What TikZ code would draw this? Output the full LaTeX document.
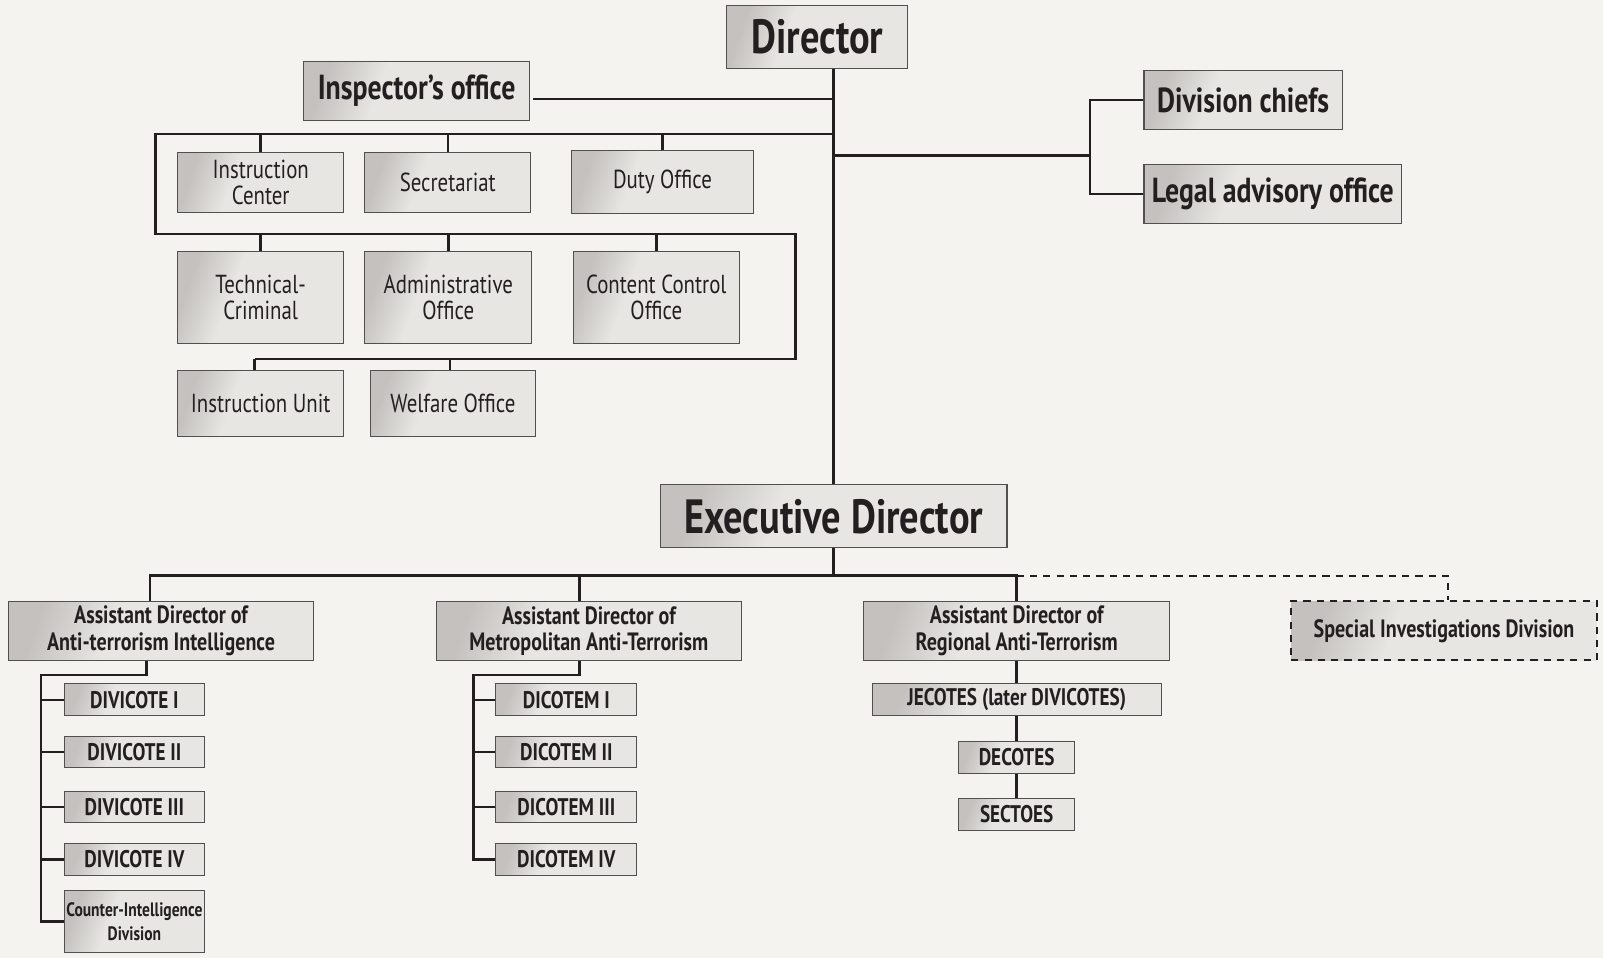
\documentclass[tikz,border=0pt]{standalone}
\usepackage{fontspec}
\setmainfont{PT Sans}[FakeStretch=0.8]
\usetikzlibrary{positioning}

\definecolor{bgcol}{HTML}{F4F3EF}
\definecolor{inkcol}{HTML}{231F20}
\definecolor{boxdark}{HTML}{C4C1BE}
\definecolor{boxlight}{HTML}{E7E6E3}
\definecolor{rimcol}{HTML}{505050}
\pgfdeclarehorizontalshading{boxshade}{100bp}{color(0bp)=(boxdark); color(25bp)=(boxdark); color(40bp)=(boxlight); color(100bp)=(boxlight)}

\begin{document}
\begin{tikzpicture}[x=1pt,y=-1pt,
    orgbox/.style={draw=rimcol,line width=1pt,shading=boxshade,shading angle=-20,
      align=center,text=inkcol,inner sep=0pt,font=\fontsize{25.5}{25.5}\selectfont},
    headbox/.style={orgbox,font=\fontsize{47}{48}\selectfont\bfseries},
    chiefbox/.style={orgbox,font=\fontsize{34}{35}\selectfont\bfseries},
    asstbox/.style={orgbox,font=\fontsize{24.5}{25.5}\selectfont\bfseries},
    unitbox/.style={orgbox,font=\fontsize{23.5}{24}\selectfont\bfseries},
    dashbox/.style={asstbox,draw=inkcol,line width=2pt,dash pattern=on 7pt off 6pt},
    link/.style={draw=inkcol,line width=2.4pt}]
  \useasboundingbox (0,0) rectangle (1568,937);
  \fill[bgcol] (0,0) rectangle (1568,937);

  % top of the tree
  \draw (799.5,36) node[headbox,minimum width=177,minimum height=62] (dir) {Director};
  \draw (407.5,89) node[chiefbox,minimum width=221,minimum height=58] (insp) {Inspector’s office};
  \draw (1216,98) node[chiefbox,minimum width=194,minimum height=58] (divc) {Division chiefs};
  \draw (1245,190) node[chiefbox,minimum width=252,minimum height=58] (legal) {Legal advisory office};

  % offices under the director
  \draw (255,178.5) node[orgbox,minimum width=162,minimum height=59] (instc) {Instruction\\Center};
  \draw (438,178.5) node[orgbox,minimum width=162,minimum height=59] (secr) {Secretariat};
  \draw (648,178) node[orgbox,minimum width=178,minimum height=62] (duty) {Duty Office};
  \draw (255,291) node[orgbox,minimum width=162,minimum height=90] (tech) {Technical-\\Criminal};
  \draw (438.5,291) node[orgbox,minimum width=163,minimum height=90] (admin) {Administrative\\Office};
  \draw (642,291) node[orgbox,minimum width=162,minimum height=90] (cont) {Content Control\\Office};
  \draw (255,394.5) node[orgbox,minimum width=162,minimum height=65] (iunit) {Instruction Unit};
  \draw (443,394.5) node[orgbox,minimum width=162,minimum height=65] (welf) {Welfare Office};

  % executive level
  \draw (815.5,505) node[headbox,minimum width=339,minimum height=62] (exe) {Executive Director};
  \draw (157.5,617) node[asstbox,minimum width=299,minimum height=58] (ad1) {Assistant Director of\\Anti-terrorism Intelligence};
  \draw (576,617) node[asstbox,minimum width=298,minimum height=58] (ad2) {Assistant Director of\\Metropolitan Anti-Terrorism};
  \draw (994.5,617) node[asstbox,minimum width=299,minimum height=58] (ad3) {Assistant Director of\\Regional Anti-Terrorism};
  \draw (1412.5,617) node[dashbox,minimum width=299,minimum height=58] (sid) {Special Investigations Division};

  \draw (131.5,684.5) node[unitbox,minimum width=137,minimum height=31] (dv1) {DIVICOTE I};
  \draw (131.5,735.5) node[unitbox,minimum width=137,minimum height=31] (dv2) {DIVICOTE II};
  \draw (131.5,789.5) node[unitbox,minimum width=137,minimum height=31] (dv3) {DIVICOTE III};
  \draw (131.5,840.5) node[unitbox,minimum width=137,minimum height=31] (dv4) {DIVICOTE IV};
  \draw (131.5,901.5) node[unitbox,minimum width=137,minimum height=61,
    font=\fontsize{19}{23}\selectfont\bfseries] (cid) {Counter-Intelligence\\Division};
  \draw (554,684.5) node[unitbox,minimum width=138,minimum height=31] (dm1) {DICOTEM I};
  \draw (554,735.5) node[unitbox,minimum width=138,minimum height=31] (dm2) {DICOTEM II};
  \draw (554,789.5) node[unitbox,minimum width=138,minimum height=31] (dm3) {DICOTEM III};
  \draw (554,840.5) node[unitbox,minimum width=138,minimum height=31] (dm4) {DICOTEM IV};
  \draw (994.5,684.5) node[unitbox,minimum width=283,minimum height=31] (jec) {JECOTES (later DIVICOTES)};
  \draw (994.5,741) node[unitbox,minimum width=114,minimum height=32] (dec) {DECOTES};
  \draw (994.5,796.5) node[unitbox,minimum width=114,minimum height=31] (sec) {SECTOES};

  % connectors
  \coordinate (b1) at (152,229);
  \coordinate (b2) at (778,351);
  \coordinate (jr) at (1066,152);
  \coordinate (ebar) at (813,563);
  \coordinate (k1) at (40,660);
  \coordinate (k2) at (463,660);
  \path (exe.north |- 0,131) coordinate (tbar);
  \path (exe.north |- 0,152) coordinate (tright);

  \draw[link] (dir.south -| exe.north) -- (exe.north);
  \draw[link] ([xshift=3pt,yshift=-8pt]insp.east) -- ([yshift=-8pt]insp.east -| exe.north);
  \draw[link] (tbar) -| (b1) -| (b2) -- ([xshift=-6pt]iunit.north |- b2);
  \foreach \n in {instc,secr,duty} \draw[link] (\n.north) -- (\n.north |- tbar);
  \foreach \n in {tech,admin,cont} \draw[link] (\n.north) -- (\n.north |- b1);
  \draw[link] ([xshift=-6pt]iunit.north) -- ([xshift=-6pt]iunit.north |- b2);
  \draw[link] ([xshift=-3pt]welf.north) -- ([xshift=-3pt]welf.north |- b2);
  \draw[link] (tright) -- (jr);
  \draw[link] (divc.west) -| (jr) |- (legal.west);

  \draw[link] (exe.south) -- (exe.south |- ebar);
  \draw[link] ([xshift=-11pt]ad1.north) |- (ad3.north |- ebar) -- (ad3.north);
  \draw[link] ([xshift=-9pt]ad2.north) -- ([xshift=-9pt]ad2.north |- ebar);
  \draw[link,line width=2pt,dash pattern=on 7pt off 6pt] (ad3.north |- ebar) -| ([xshift=4pt]sid.north);

  \draw[link] ([xshift=-14pt]ad1.south) |- (k1) |- (cid.west);
  \foreach \n in {dv1,dv2,dv3,dv4} \draw[link] (\n.west) -- (\n.west -| k1);
  \draw[link] ([xshift=-9pt]ad2.south) |- (k2) |- (dm4.west);
  \foreach \n in {dm1,dm2,dm3} \draw[link] (\n.west) -- (\n.west -| k2);
  \draw[link] (ad3.south) -- (jec.north);
  \draw[link] (jec.south) -- (dec.north);
  \draw[link] (dec.south) -- (sec.north);
\end{tikzpicture}
\end{document}
